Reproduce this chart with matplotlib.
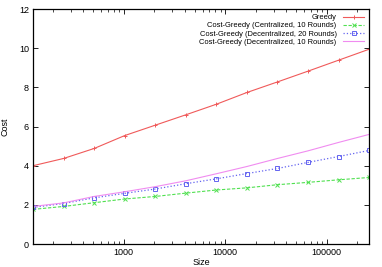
import matplotlib
matplotlib.use('Agg')
import matplotlib.pyplot as plt
from matplotlib.ticker import LogLocator, NullFormatter, FixedLocator

plt.rcParams['font.family'] = ['Liberation Sans', 'DejaVu Sans']

sizes = [128, 256, 512, 1024, 2048, 4096, 8192, 16384, 32768, 65536, 131072, 262144]
greedy = [4.0, 4.37, 4.88, 5.54, 6.07, 6.6, 7.14, 7.74, 8.28, 8.83, 9.39, 9.95]
cent10 = [1.77, 1.92, 2.11, 2.3, 2.43, 2.6, 2.76, 2.87, 3.03, 3.15, 3.28, 3.4]
decent20 = [1.87, 2.07, 2.36, 2.59, 2.81, 3.08, 3.33, 3.6, 3.86, 4.17, 4.47, 4.78]
decent10 = [1.92, 2.1, 2.43, 2.67, 2.93, 3.23, 3.59, 3.96, 4.37, 4.76, 5.19, 5.6]

labels = ['Greedy', 'Cost-Greedy (Centralized, 10 Rounds)',
          'Cost-Greedy (Decentralized, 20 Rounds)', 'Cost-Greedy (Decentralized, 10 Rounds)']

fig = plt.figure(figsize=(3.82, 2.67), dpi=100)
ax = fig.add_axes([0.0864, 0.086, 0.880, 0.880])

ax.plot(sizes, greedy, '-', color='#f05a5a', lw=0.8, marker='+', ms=3.5, mew=0.7, label=labels[0])
ax.plot(sizes, cent10, '--', color='#50e050', lw=0.8, marker='x', ms=3, mew=0.7, dashes=(3, 1.5), label=labels[1])
ax.plot(sizes, decent20, ':', color='#6464f0', lw=0.9, marker='s', ms=3.2, mew=0.7, mfc='none', label=labels[2])
ax.plot(sizes, decent10, '-', color='#f08cf0', lw=0.8, label=labels[3])

ax.set_xscale('log')
ax.set_xlim(128, 262144)
ax.set_ylim(0, 12)
ax.set_yticks([0, 2, 4, 6, 8, 10, 12])
ax.xaxis.set_major_locator(FixedLocator([1000, 10000, 100000]))
ax.xaxis.set_major_formatter(matplotlib.ticker.FuncFormatter(lambda v, p: '%d' % v))
ax.xaxis.set_minor_locator(LogLocator(base=10, subs=range(2, 10), numticks=20))
ax.xaxis.set_minor_formatter(NullFormatter())
ax.tick_params(which='both', direction='in', top=True, right=True, labelsize=6.5, pad=3)
ax.tick_params(which='major', length=3.5, width=0.6)
ax.tick_params(which='minor', length=2, width=0.5)
for s in ax.spines.values():
    s.set_linewidth(0.9)

ax.set_xlabel('Size', fontsize=6.5, labelpad=0.5)
ax.set_ylabel('Cost', fontsize=6.5, labelpad=7)

ax.legend(loc='upper right', fontsize=5.4, frameon=False, markerfirst=False,
          handlelength=2.8, labelspacing=0.12, borderaxespad=0.35, handletextpad=0.9,
          borderpad=0.3)

fig.savefig('out.png', dpi=100)
